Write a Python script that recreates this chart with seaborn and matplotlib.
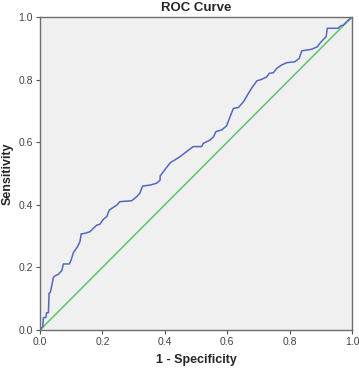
import matplotlib
matplotlib.use("Agg")
import matplotlib.pyplot as plt
import seaborn as sns
import pandas as pd

# ROC curve points (1 - specificity, sensitivity)
fpr = [0.0, 0.009, 0.011, 0.019, 0.021, 0.027, 0.029, 0.033, 0.037, 0.043, 0.048,
       0.059, 0.070, 0.075, 0.094, 0.100, 0.107, 0.120, 0.128, 0.132, 0.145,
       0.160, 0.171, 0.182, 0.192, 0.203, 0.214, 0.222, 0.235, 0.246, 0.256,
       0.294, 0.310, 0.320, 0.329, 0.353, 0.374, 0.385, 0.385, 0.417, 0.449,
       0.470, 0.491, 0.518, 0.523, 0.545, 0.556, 0.564, 0.582, 0.598, 0.609,
       0.620, 0.636, 0.652, 0.668, 0.678, 0.695, 0.711, 0.727, 0.735, 0.748,
       0.759, 0.775, 0.791, 0.817, 0.831, 0.839, 0.871, 0.889, 0.897, 0.908,
       0.917, 0.921, 0.956, 0.962, 0.972, 0.983, 1.0]
tpr = [0.0, 0.01, 0.04, 0.04, 0.055, 0.055, 0.117, 0.12, 0.138, 0.168, 0.173,
       0.178, 0.190, 0.211, 0.211, 0.224, 0.247, 0.266, 0.282, 0.307, 0.309,
       0.314, 0.325, 0.335, 0.338, 0.354, 0.362, 0.383, 0.392, 0.399, 0.410,
       0.413, 0.426, 0.437, 0.460, 0.463, 0.469, 0.479, 0.492, 0.534, 0.554,
       0.570, 0.586, 0.586, 0.596, 0.607, 0.617, 0.634, 0.639, 0.652, 0.681,
       0.708, 0.711, 0.729, 0.756, 0.772, 0.796, 0.801, 0.809, 0.820, 0.822,
       0.836, 0.847, 0.854, 0.857, 0.868, 0.892, 0.897, 0.905, 0.916, 0.928,
       0.937, 0.964, 0.964, 0.971, 0.974, 0.985, 1.0]
ref_line = [0.0, 1.0]
ticks = [0.0, 0.2, 0.4, 0.6, 0.8, 1.0]

df = pd.DataFrame({"fpr": fpr, "tpr": tpr})
ref = pd.DataFrame({"x": ref_line, "y": ref_line})

sns.set_style("white")
plt.rcParams["font.family"] = ["Liberation Sans", "DejaVu Sans"]

fig = plt.figure(figsize=(3.59, 3.68), dpi=100)
ax = fig.add_axes([40 / 359, 38 / 368, 312 / 359, 313 / 368])
ax.set_facecolor("#f0f0f0")

sns.lineplot(data=ref, x="x", y="y", ax=ax, color="#5cc46c", linewidth=1.1)
sns.lineplot(data=df, x="fpr", y="tpr", ax=ax, sort=False, estimator=None,
             color="#5468bd", linewidth=1.1)

ax.set_xlim(0, 1)
ax.set_ylim(0, 1)
ax.set_xticks(ticks)
ax.set_yticks(ticks)
ax.set_xticklabels([f"{t:.1f}" for t in ticks])
ax.set_yticklabels([f"{t:.1f}" for t in ticks])
ax.tick_params(axis="both", direction="out", length=3, width=0.8, color="#555555",
               labelsize=7.5, labelcolor="#444444", pad=2)
ax.tick_params(top=False, right=False, bottom=True, left=True)
for s in ax.spines.values():
    s.set_color("#6e6e6e")
    s.set_linewidth(1.0)

ax.set_title("ROC Curve", fontsize=9.5, fontweight="bold", pad=4)
ax.set_xlabel("1 - Specificity", fontsize=9, fontweight="bold", labelpad=5)
ax.set_ylabel("Sensitivity", fontsize=9, fontweight="bold")
ax.yaxis.set_label_coords(-0.084, 0.5)

fig.savefig("out.png", dpi=100)
